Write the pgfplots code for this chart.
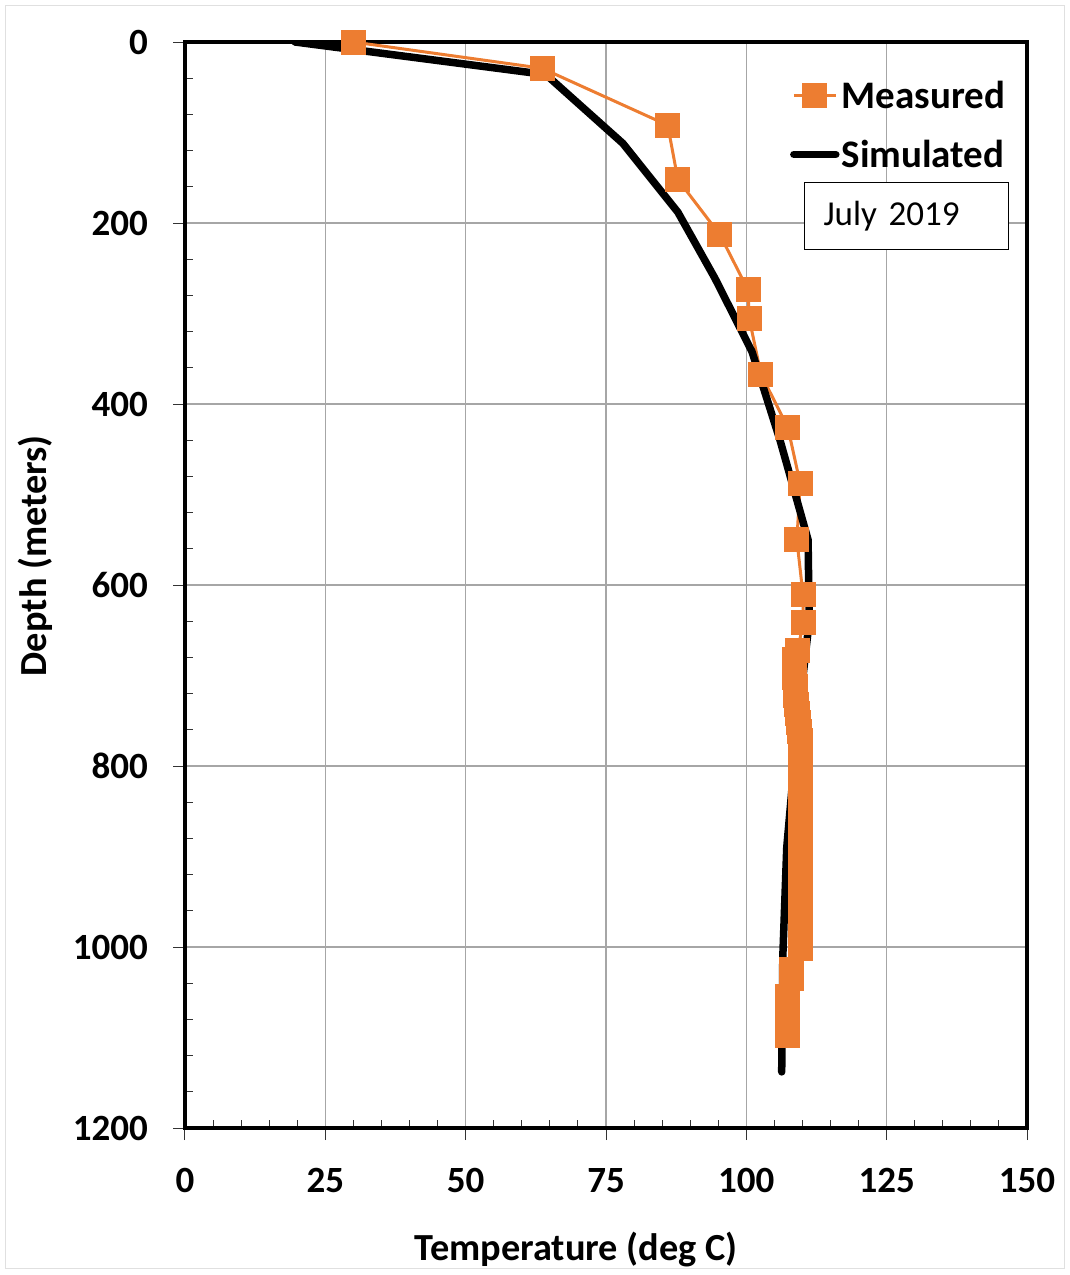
\documentclass[border=0pt]{standalone}
\usepackage{pgfplots}
\pgfplotsset{compat=1.18}
\usepackage{fontspec}
\setmainfont{Carlito}
\definecolor{morange}{HTML}{ED7D31}
\pgfplotstableread{
T d
30.0 0
63.6 29
86.0 92
87.8 152
95.3 213
100.3 274
100.5 305
102.6 367
107.4 426
109.6 488
109.0 550
110.1 611
110.1 641
109.2 672
108.6 682
108.5 692
108.6 702
108.7 712
108.8 722
108.9 732
109.1 742
109.3 752
109.5 762
109.6 772
109.6 782
109.6 792
109.6 802
109.7 812
109.6 822
109.6 832
109.7 842
109.6 852
109.6 862
109.7 872
109.6 882
109.6 892
109.7 902
109.6 912
109.6 922
109.7 932
109.6 942
109.6 952
109.7 962
109.6 972
109.6 982
109.7 992
109.6 1002
108.0 1025
108.0 1035
107.4 1055
107.4 1065
107.4 1075
107.4 1085
107.4 1098
}\measured
\pgfplotstableread{
T d
19.6 0
64.3 36
78.0 112
87.8 188
94.4 261
101.0 342
106.0 440
111.0 550
111.2 640
109.2 750
107.2 890
106.5 1010
106.3 1138
}\simulated
\begin{document}
\begin{tikzpicture}
\draw[black!12, line width=1pt] (5.5pt,6pt) rectangle (1064.5pt,1269pt);
\path (0pt,0pt) rectangle (1070pt,1275pt);
\begin{axis}[
  name=ax,
  at={(185pt,147pt)}, anchor=south west,
  scale only axis, width=842pt, height=1086pt,
  xmin=0, xmax=150, ymin=0, ymax=1200, y dir=reverse,
  xtick={0,25,...,150}, ytick={0,200,...,1200},
  minor x tick num=4, minor y tick num=4,
  xtick pos=lower, xticklabel pos=lower, ytick pos=left,
  grid=major, major grid style={black!35, line width=1.2pt},
  axis line style={line width=4.5pt},
  tick align=outside, major tick length=12pt, minor tick length=8pt,
  tick style={black!80, line width=1pt},
  every minor x tick/.append style={yshift=8pt},
  every minor y tick/.append style={xshift=8pt},
  /pgf/number format/assume math mode=true,
  /pgf/number format/1000 sep={},
  ticklabel style={font=\fontsize{37}{44}\selectfont\bfseries, inner sep=0pt},
  xticklabel style={anchor=base, yshift=-52pt},
  yticklabel style={anchor=east, xshift=-25pt},
  xlabel={Temperature (deg C)}, ylabel={Depth (meters)},
  label style={font=\fontsize{38.3}{46}\selectfont\bfseries},
  xlabel style={at={(axis description cs:0.4645,-0.112)}, anchor=center},
  ylabel style={at={(axis description cs:-0.178,0.527)}, anchor=center},
  legend style={at={(axis description cs:0.9765,0.966)}, anchor=north east,
    draw=none, fill=none, font=\fontsize{39}{46}\selectfont\bfseries,
    row sep=26pt, inner sep=0pt,
    /tikz/every even column/.append style={column sep=0pt}},
  legend cell align=left,
  legend image code/.code={\draw[mark repeat=2,mark phase=2,#1] plot coordinates {(0pt,0pt) (21pt,0pt) (42pt,0pt)};},
]
\addplot[morange, line width=3pt, mark=square*, mark size=12pt,
  mark options={solid, fill=morange, draw=morange, line width=0pt}] table[x=T,y=d] {\measured};
\addlegendentry{Measured}
\addplot[black, line width=7.5pt, line cap=round, line join=round] table[x=T,y=d] {\simulated};
\addlegendentry{Simulated}
\end{axis}
\node[draw=black, line width=1pt, fill=white, anchor=north west,
  minimum width=204pt, minimum height=67pt, text width=166pt, inner xsep=19pt,
  align=left, font=\fontsize{35}{42}\selectfont] at (804pt,1275pt-182pt) {July 2019};
\end{tikzpicture}
\end{document}
